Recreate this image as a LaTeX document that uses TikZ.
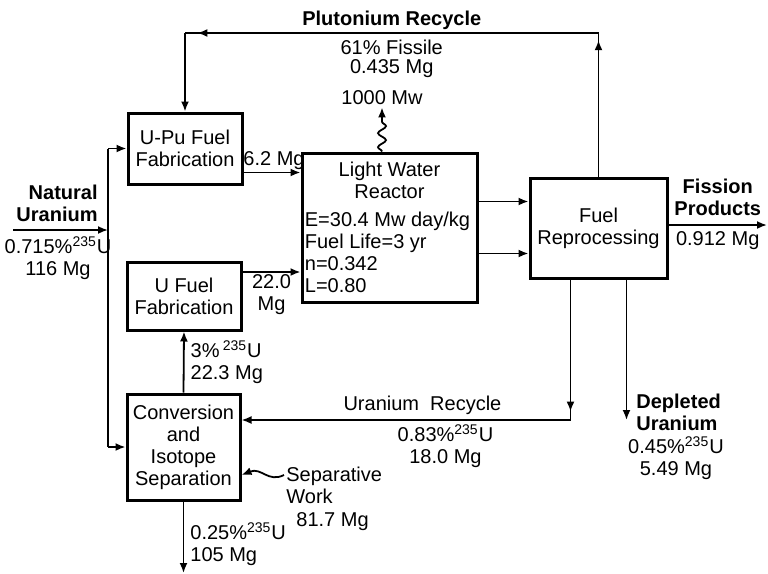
\documentclass[tikz,border=0pt]{standalone}
\usepackage{fontspec}
\setmainfont{Liberation Sans}
\usepackage{tikz}
\usetikzlibrary{arrows.meta,positioning,decorations.pathmorphing,decorations.markings}

\begin{document}
\begin{tikzpicture}[
  x=0.5pt, y=-0.5pt,
  box/.style={rectangle, draw, line width=1.5pt, align=center, inner sep=1pt, font=\fontsize{10}{11}\selectfont},
  lbl/.style={inner sep=1pt, align=center, font=\fontsize{10}{11}\selectfont},
  line/.style={line width=0.9pt},
  arr/.style={-{Latex[length=5pt,width=4pt]}, line width=0.9pt},
  tipat/.style={postaction={decorate}, decoration={markings, mark=at position #1 with {\arrow{Latex[length=5pt,width=4pt]}}}},
  wavy/.style={decorate, decoration={snake, amplitude=2pt, segment length=7pt, post length=4pt}}
]
\useasboundingbox (0,0) rectangle (768,574);

\node[box, minimum width=57pt, minimum height=35.5pt] (upfab) at (185,148.5) {U-Pu Fuel\\Fabrication};
\node[box, minimum width=57pt, minimum height=34pt]   (ufab)  at (184,296)   {U Fuel\\Fabrication};
\node[box, minimum width=56.5pt, minimum height=53pt] (conv)  at (183.5,447) {Conversion\\and\\Isotope\\Separation};
\node[box, minimum width=87.5pt, minimum height=74.5pt] (lwr) at (389.5,227.5) {};
\node[box, minimum width=68.5pt, minimum height=50pt] (repro) at (598.5,228) {Fuel\\Reprocessing};

\node[lbl, anchor=north] (lwrname) at ([yshift=-4pt]lwr.north) {Light Water\\Reactor};
\node[lbl, align=left, anchor=south west] (lwrdata) at ([xshift=1pt, yshift=4pt]lwr.south west)
  {E=30.4 Mw day/kg\\Fuel Life=3 yr\\n=0.342\\L=0.80};

\node[lbl] (pwr) at (382,98) {1000 Mw};
\draw[arr, wavy] (pwr.south |- lwr.north) -- (pwr.south);

% plutonium recycle
\coordinate (puR) at (repro.north |- 0,33);
\coordinate (puL) at (upfab.north |- 0,33);
\draw[line, tipat=0.95] (repro.north) -- (puR);
\draw[line, tipat=0.97] (puR) -- (puL)
  node[lbl, midway, above=0pt, font=\fontsize{10}{11}\selectfont\bfseries] (pulbl) {Plutonium Recycle}
  node[lbl, midway, below=2pt, font=\fontsize{10}{9.5}\selectfont] (puval) {61\% Fissile\\0.435 Mg};
\draw[arr] (puL) -- (upfab.north);

% natural uranium feed
\coordinate (nuIn) at (13,230);
\coordinate (nuJ) at (108,230);
\draw[arr] (nuIn) -- (nuJ);
\draw[line] (upfab.west -| nuJ) -- (conv.west -| nuJ);
\draw[arr] (upfab.west -| nuJ) -- (upfab.west);
\draw[arr] (conv.west -| nuJ) -- (conv.west);
\node[lbl, align=right, anchor=south east, font=\fontsize{10}{11}\selectfont\bfseries] (nulbl) at ([xshift=-4pt, yshift=3pt]nuJ) {Natural\\Uranium};
\node[lbl, anchor=north] (nuval) at (58,234) {0.715\%\textsuperscript{235}U\\116 Mg};

% fuel to reactor
\draw[arr] ([yshift=-12pt]upfab.east) coordinate (a) -- (a -| lwr.west)
  node[lbl, midway, above, xshift=1pt] (mpu) {6.2 Mg};
\draw[arr] ([yshift=12pt]ufab.east) coordinate (b) -- (b -| lwr.west)
  node[lbl, midway, below] (mu) {22.0\\Mg};

% reactor to reprocessing
\draw[arr] ([yshift=13pt]lwr.east) coordinate (c) -- (c -| repro.west);
\draw[arr] ([yshift=-13pt]lwr.east) coordinate (d) -- (d -| repro.west);

% fission products
\coordinate (fpOut) at (767,225);
\draw[arr] (repro.east |- fpOut) -- (fpOut)
  node[lbl, midway, above=3pt, font=\fontsize{10}{11}\selectfont\bfseries] (fplbl) {Fission\\Products}
  node[lbl, midway, below=2pt] (fpval) {0.912 Mg};

% uranium recycle and depleted uranium
\coordinate (urC) at ([yshift=13.5pt]conv.east);
\draw[line, tipat=0.94] ([xshift=-14pt]repro.south) coordinate (urTop) -- (urTop |- urC);
\draw[arr] (urTop |- urC) -- (urC)
  node[lbl, pos=0.45, above=1pt] (urlbl) {Uranium\; Recycle}
  node[lbl, pos=0.38, below=1pt] (urval) {0.83\%\textsuperscript{235}U\\18.0 Mg};
\draw[arr] ([xshift=14pt]repro.south) coordinate (duTop) -- (duTop |- urC);
\node[lbl, align=left, anchor=north west, font=\fontsize{10}{11}\selectfont\bfseries] (dulbl) at (634,392) {Depleted\\Uranium};
\node[lbl, anchor=north] (duval) at (676,434) {0.45\%\textsuperscript{235}U\\5.49 Mg};

% enrichment
\draw[arr] (conv.north) -- (ufab.south)
  node[lbl, midway, right=2pt, align=left] (enval) {3\%\,\textsuperscript{235}U\\22.3 Mg};
\node[lbl, align=left, anchor=west] (sw) at (284,485) {Separative\\Work};
\node[lbl, anchor=north west] (swval) at (294,510) {81.7 Mg};
\draw[arr] ([yshift=5pt]sw.west) .. controls +(-8pt,-4pt) and +(10pt,4pt) .. ([yshift=-14pt]conv.east);
\coordinate (tails) at (183.5,573);
\draw[arr] (conv.south) -- (tails)
  node[lbl, pos=0.6, right=2pt, align=left] (tlval) {0.25\%\textsuperscript{235}U\\105 Mg};
\end{tikzpicture}
\end{document}
